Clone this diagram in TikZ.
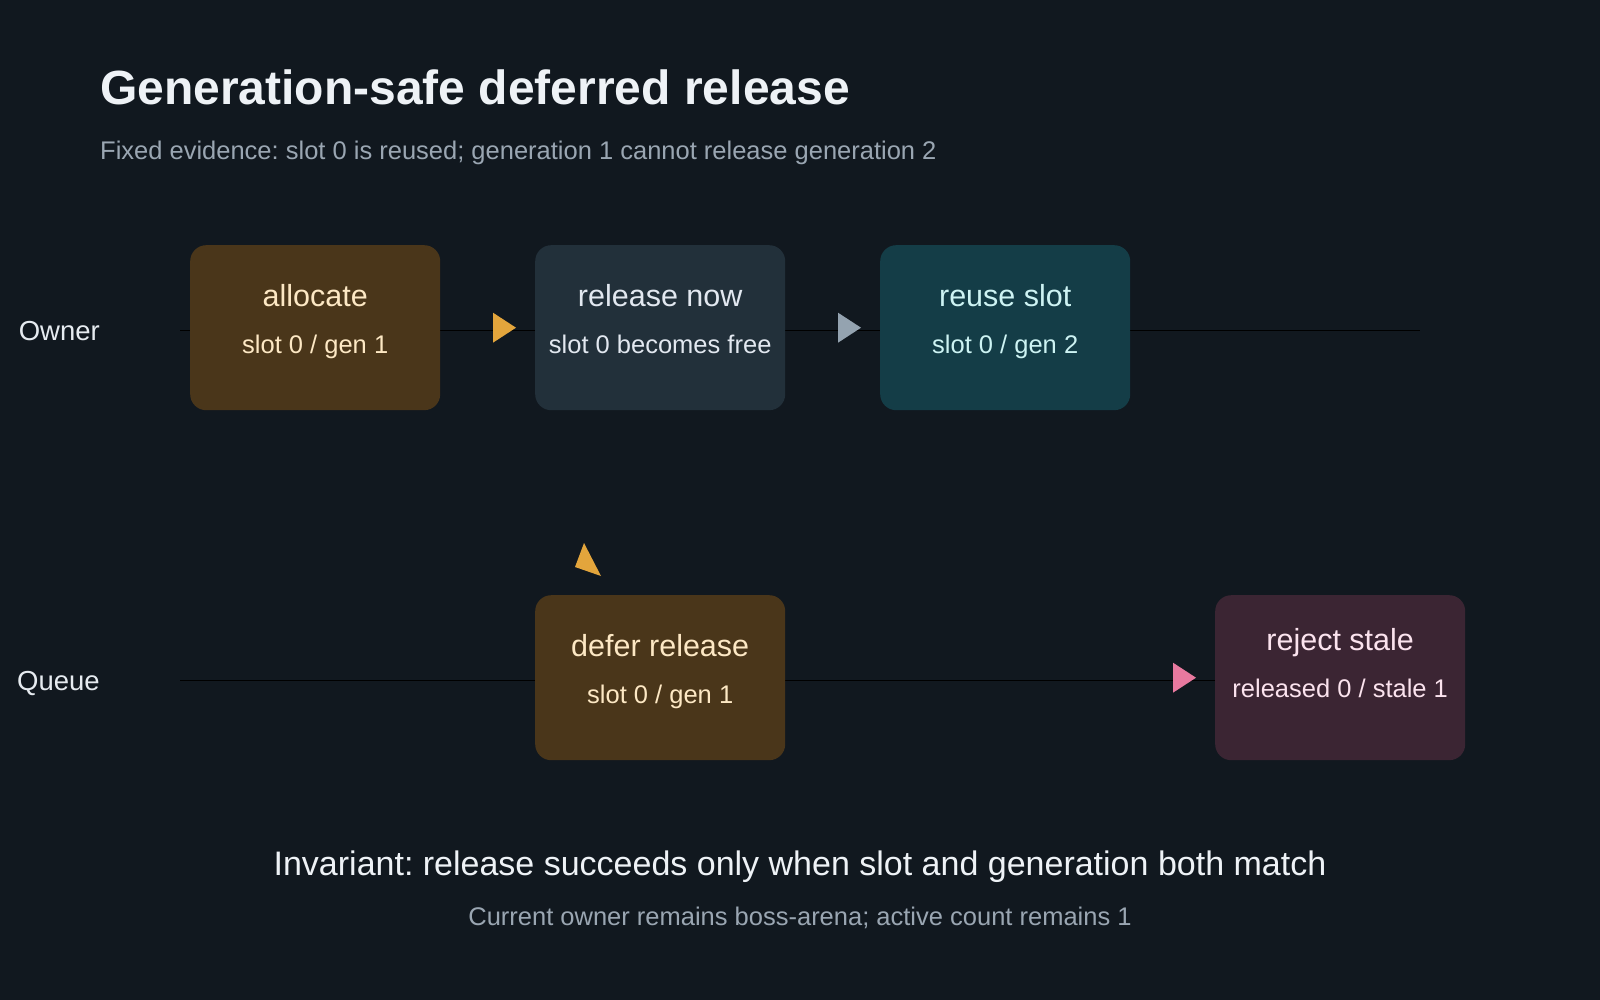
\documentclass[tikz,border=0pt]{standalone}
\usepackage{fontspec}
\setmainfont{Liberation Sans}
\usetikzlibrary{calc}
\frenchspacing

\definecolor{canvas}{HTML}{11181F}
\definecolor{titleink}{HTML}{EEF2F6}
\definecolor{mutedink}{HTML}{9AA6B2}
\definecolor{laneink}{HTML}{E6EBF0}
\definecolor{amberbox}{HTML}{4A361A}
\definecolor{amberink}{HTML}{FDE8C4}
\definecolor{slatebox}{HTML}{22303A}
\definecolor{slateink}{HTML}{E2E8F0}
\definecolor{tealbox}{HTML}{143D47}
\definecolor{tealink}{HTML}{CDF3F3}
\definecolor{plumbox}{HTML}{3B2533}
\definecolor{plumink}{HTML}{FBE3EE}
\definecolor{amberarrow}{HTML}{E3A53C}
\definecolor{slatearrow}{HTML}{94A3B0}
\definecolor{pinkarrow}{HTML}{E8799F}

\begin{document}
\begin{tikzpicture}
[x=1pt,y=-1pt,
  boxdecorate/.style={shape=rectangle,rounded corners=16pt,anchor=north west,
    minimum width=250pt,minimum height=165pt,inner sep=0pt},%
  lanedecorate/.style={-,line width=1pt,draw=black},%
  textdecorate/.style={inner sep=0pt},%
  headdecorate/.style={textdecorate,anchor=base,font=\fontsize{30.5}{36}\selectfont},%
  detaildecorate/.style={textdecorate,anchor=base,font=\fontsize{25.5}{30}\selectfont}]
\useasboundingbox[fill=canvas] (0,0) rectangle (1600,1000);
%% heading
\node (title) at (100,105) [textdecorate,anchor=base west,text=titleink,
  font=\bfseries\fontsize{48}{58}\selectfont] {Generation-safe deferred release};
\node (subtitle) at (100,160) [textdecorate,anchor=base west,text=mutedink,
  font=\fontsize{25.5}{30}\selectfont]
  {Fixed evidence: slot 0 is reused; generation 1 cannot release generation 2};
%% lanes
\foreach \lanename/\lanetext/\y in {owner/Owner/330, queue/Queue/680} {
  \coordinate (\lanename-l) at (180,\y);
  \coordinate (\lanename-r) at (1420,\y);
  \draw[lanedecorate] (\lanename-l) -- (\lanename-r);
  \node (\lanename) at (100,\y+10) [textdecorate,anchor=base east,text=laneink,
    font=\fontsize{27.5}{33}\selectfont] {\lanetext};
}
%% steps
\foreach \boxname/\x/\y/\boxfill/\ink/\lift/\headtext/\detailtext in {
  alloc/190/245/amberbox/amberink/0/allocate/{slot 0 / gen 1},
  relnow/535/245/slatebox/slateink/0/release now/slot 0 becomes free,
  reuse/880/245/tealbox/tealink/0/reuse slot/{slot 0 / gen 2},
  defer/535/595/amberbox/amberink/0/defer release/{slot 0 / gen 1},
  reject/1215/595/plumbox/plumink/6/reject stale/{released 0 / stale 1}} {
  \node (\boxname) at (\x,\y) [boxdecorate,fill=\boxfill] {};
  \node [headdecorate,text=\ink] at ($(\boxname.north)+(0,61-\lift)$) {\headtext};
  \node [detaildecorate,text=\ink] at ($(\boxname.north)+(0,108-\lift)$) {\detailtext};
}
%% arrow heads
\foreach \target/\tint in {relnow/amberarrow, reuse/slatearrow, reject/pinkarrow} {
  \fill[\tint] ($(\target.west)+(-42,-15)$) -- ($(\target.west)+(-19,0)$)
    -- ($(\target.west)+(-42,15)$) -- cycle;
}
\fill[amberarrow] ($(defer.north west)+(49,-52)$) -- ($(defer.north west)+(66,-19)$)
  -- ($(defer.north west)+(40,-28)$) -- cycle;
%% footer
\node (invariant) at (800,875) [textdecorate,anchor=base,text=titleink,
  font=\fontsize{34}{40}\selectfont]
  {Invariant: release succeeds only when slot and generation both match};
\node (current) at (800,925) [textdecorate,anchor=base,text=mutedink,
  font=\fontsize{25.5}{30}\selectfont]
  {Current owner remains boss-arena; active count remains 1};
\end{tikzpicture}
\end{document}
